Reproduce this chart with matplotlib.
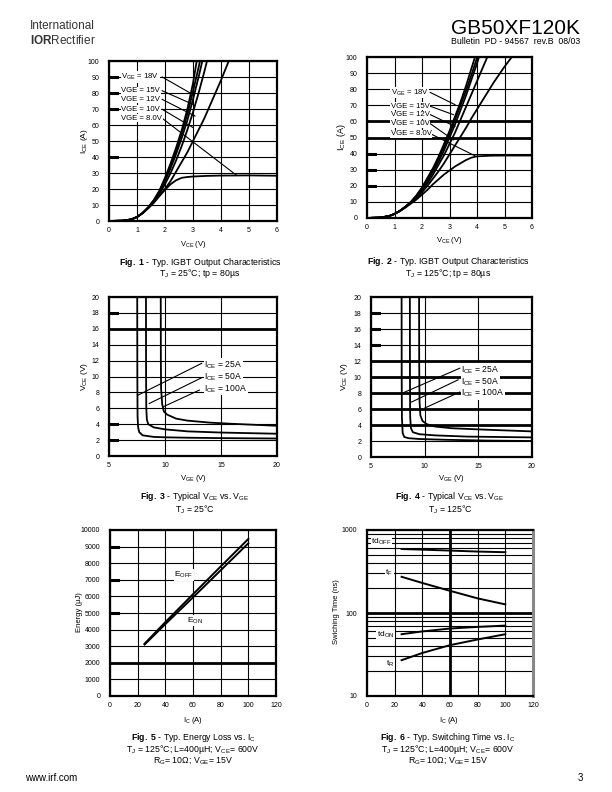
import matplotlib
matplotlib.use("Agg")
import matplotlib.pyplot as plt
from matplotlib.ticker import NullFormatter, LogLocator

plt.rcParams["font.family"] = ["Liberation Sans", "DejaVu Sans"]
plt.rcParams["mathtext.fontset"] = "custom"
plt.rcParams["mathtext.rm"] = "Liberation Sans"
plt.rcParams["mathtext.it"] = "Liberation Sans:italic"
plt.rcParams["mathtext.bf"] = "Liberation Sans:bold"

# ---- Fig. 1 / Fig. 2 : output characteristics (VCE in V, ICE in A)
vce_25 = [0, 0.5, 0.8, 1.0, 1.2, 1.4, 1.6, 1.8, 2.0, 2.2, 2.4, 2.6, 2.8, 3.0, 3.2, 3.4, 3.6, 3.8, 4.0, 4.3]
ice_25_rising = [
    [0, 0.2, 1.0, 2.5, 5, 8.5, 13, 19, 27, 36, 46, 57, 70, 86, 107],
    [0, 0.2, 1.0, 2.5, 5, 8.5, 13, 18.5, 26, 34.5, 44, 55, 67, 81, 96, 112],
    [0, 0.2, 1.0, 2.5, 5, 8.5, 12.5, 18, 25, 33, 42, 52, 63, 76, 90, 105],
    [0, 0.2, 1.0, 2.5, 5, 8.3, 12, 17, 23, 30, 38, 47, 57, 68, 80, 93, 107],
    [0, 0.2, 1.0, 2.5, 4.8, 8, 11.5, 16, 20, 25, 31, 37, 43, 50, 57, 64, 72, 80, 88, 101],
]
vce_25_8v = [0, 0.5, 0.8, 1.0, 1.2, 1.4, 1.6, 1.8, 2.0, 2.2, 2.4, 2.6, 2.8, 3.0, 3.5, 4.0, 5.0, 6.0]
ice_25_8v = [0, 0.2, 1.0, 2.5, 5, 8, 11.5, 15.5, 19.5, 23, 25.5, 27, 27.5, 27.8, 28.2, 28.4, 28.5, 28.3]

vce_125 = [0, 0.5, 0.8, 1.0, 1.2, 1.4, 1.6, 1.8, 2.0, 2.2, 2.4, 2.6, 2.8, 3.0, 3.2,
           3.4, 3.6, 3.8, 4.0, 4.2, 4.4, 4.6, 4.8, 5.0, 5.2, 5.4]
ice_125_rising = [
    [0, 0.3, 1.2, 2.5, 4.5, 7, 10, 14, 19, 25, 31, 38, 46, 54, 63, 72, 82, 93, 104],
    [0, 0.3, 1.2, 2.5, 4.5, 7, 10, 14, 18.5, 24, 30, 37, 44, 52, 61, 70, 79, 89, 99.5, 110],
    [0, 0.3, 1.2, 2.5, 4.5, 7, 10, 13.5, 18, 23, 29, 35, 42, 50, 58, 67, 76, 86, 96, 107],
    [0, 0.3, 1.2, 2.5, 4.5, 7, 9.8, 13, 17, 21.5, 27, 33, 39, 46, 53, 61, 69, 77, 85, 93, 101],
    [0, 0.3, 1.2, 2.5, 4.4, 6.8, 9.5, 12.5, 16, 20, 24.5, 29, 34, 39.5, 45, 50.5, 56, 62,
     67.5, 73, 78.5, 84, 89, 94, 98.5, 103],
]
vce_125_8v = [0, 0.5, 0.8, 1.0, 1.2, 1.4, 1.6, 1.8, 2.0, 2.2, 2.4, 2.6, 2.8, 3.0, 3.2, 3.4,
              3.6, 3.8, 4.0, 4.5, 5.0, 6.0]
ice_125_8v = [0, 0.3, 1.2, 2.5, 4.3, 6.5, 9, 11.5, 14.5, 17.5, 21, 24, 27, 29.5, 32, 34,
              36, 37.5, 38.3, 38.7, 38.8, 38.8]

vge_labels = ["V$_{\\mathrm{GE}}$ = 18V", "VGE = 15V", "VGE = 12V", "VGE = 10V", "VGE = 8.0V"]

# ---- Fig. 3 / Fig. 4 : VCE vs VGE for ICE = 25, 50, 100 A
ice_labels = ["I$_{\\mathrm{CE}}$ = 25A", "I$_{\\mathrm{CE}}$ = 50A", "I$_{\\mathrm{CE}}$ = 100A"]
vge_25c = [
    [7.52, 7.53, 7.55, 7.6, 7.7, 8.0, 9.0, 10, 12, 15, 20],
    [8.3, 8.31, 8.33, 8.38, 8.5, 9.0, 10, 12, 15, 20],
    [9.62, 9.63, 9.65, 9.75, 9.9, 10.2, 11, 12, 14, 16, 20],
]
vce_25c = [
    [20, 10, 5, 3.6, 3.0, 2.6, 2.4, 2.35, 2.3, 2.25, 2.2],
    [20, 10, 6, 4.6, 4.0, 3.6, 3.35, 3.1, 2.95, 2.8],
    [20, 12, 8.5, 6.5, 5.6, 5.2, 4.7, 4.45, 4.2, 4.05, 3.8],
]
vge_125c = [
    [7.85, 7.86, 7.88, 7.95, 8.1, 8.5, 9.5, 12, 16, 20],
    [8.62, 8.63, 8.65, 8.72, 8.9, 9.5, 11, 14, 20],
    [9.48, 9.49, 9.52, 9.6, 9.8, 10.2, 11, 12.5, 15, 20],
]
vce_125c = [
    [20, 10, 5, 3.0, 2.5, 2.35, 2.25, 2.15, 2.05, 2.0],
    [20, 10, 5, 3.6, 3.1, 2.85, 2.7, 2.55, 2.45],
    [20, 12, 7, 5.2, 4.5, 4.1, 3.8, 3.6, 3.45, 3.2],
]

# ---- Fig. 5 : energy loss vs IC (uJ)
ic_energy = [25, 40, 60, 80, 100]
e_off = [3150, 4450, 6130, 7800, 9460]
e_on = [3100, 4330, 5940, 7570, 9200]

# ---- Fig. 6 : switching time vs IC (ns)
ic_switch = [25, 40, 60, 80, 100]
td_off = [590, 580, 565, 550, 540]
t_f = [273, 230, 185, 150, 127]
td_on = [55.5, 60, 65, 68, 70.5]
t_r = [27, 33, 41, 48, 55.5]

W, H = 612, 792
fig = plt.figure(figsize=(W / 100, H / 100), dpi=100)
fig.patch.set_facecolor("white")


def page_axes(x0, y0, x1, y1):
    """Axes placed by page pixel box (top-left origin)."""
    return fig.add_axes([x0 / W, 1 - y1 / H, (x1 - x0) / W, (y1 - y0) / H])


def page_text(x, y, s, **kw):
    kw.setdefault("ha", "center")
    kw.setdefault("va", "center")
    fig.text(x / W, 1 - y / H, s, **kw)


def style(ax, xticks, yticks, heavy_h=(), heavy_v=(), stubs=(), log=False):
    ax.set_xlim(xticks[0], xticks[-1])
    ax.set_xticks(xticks)
    if not log:
        ax.set_ylim(yticks[0], yticks[-1])
        ax.set_yticks(yticks)
    ax.grid(True, which="both", color="black", lw=0.8)
    ax.tick_params(which="both", length=0, labelsize=5)
    ax.tick_params(axis="y", pad=7)
    ax.tick_params(axis="x", pad=4.5)
    for s in ax.spines.values():
        s.set_linewidth(1.6)
    for y in heavy_h:
        ax.axhline(y, color="black", lw=2.0)
    for x in heavy_v:
        ax.axvline(x, color="black", lw=2.0)
    for y in stubs:
        ax.plot([0, 0.05], [y, y], color="black", lw=2.2,
                transform=ax.get_yaxis_transform(), clip_on=False)


def label(ax, x, y, s, size=5.8):
    ax.text(x, y, s, fontsize=size, ha="left", va="center", zorder=5,
            bbox=dict(facecolor="white", edgecolor="none", pad=0.4))


def leader(ax, x0, y0, x1, y1):
    ax.plot([x0, x1], [y0, y1], color="black", lw=0.8, zorder=4)


curve_kw = dict(color="black", lw=1.3, zorder=3)

# ---------------- Fig. 1
ax1 = page_axes(109, 61, 277, 221)
for ys in ice_25_rising:
    ax1.plot(vce_25[:len(ys)], ys, **curve_kw)
ax1.plot(vce_25_8v, ice_25_8v, **curve_kw)
style(ax1, list(range(0, 7)), list(range(0, 101, 10)), stubs=(40, 70, 80, 90))
lab_y1 = [90, 81.4, 76, 69.8, 64.2]
end1 = [(2.95, 79.5), (3.01, 72.8), (3.07, 65.6), (3.01, 58.3), (4.56, 28.5)]
for s, ly, (ex, ey) in zip(vge_labels, lab_y1, end1):
    leader(ax1, 1.9, ly, ex, ey)
    label(ax1, 0.44, ly, s, size=5.6)

# ---------------- Fig. 2
ax2 = page_axes(367, 57, 532, 218)
for ys in ice_125_rising:
    ax2.plot(vce_125[:len(ys)], ys, **curve_kw)
ax2.plot(vce_125_8v, ice_125_8v, **curve_kw)
style(ax2, list(range(0, 7)), list(range(0, 101, 10)), heavy_h=(50, 60), stubs=(20, 30, 40))
lab_y2 = [78, 69.4, 64.2, 58.6, 52.4]
end2 = [(3.2, 70.4), (3.14, 64.2), (3.2, 56.9), (3.14, 48.5), (3.93, 38.6)]
for s, ly, (ex, ey) in zip(vge_labels, lab_y2, end2):
    leader(ax2, 2.3, ly, ex, ey)
    label(ax2, 0.87, ly, s, size=5.6)

# ---------------- Fig. 3
ax3 = page_axes(109, 297, 277, 456)
for xs, ys in zip(vge_25c, vce_25c):
    ax3.plot(xs, ys, **curve_kw)
style(ax3, [5, 10, 15, 20], list(range(0, 21, 2)), heavy_h=(16,), stubs=(2, 4, 18))
lab3 = [(13.5, 11.45), (13.5, 9.98), (13.5, 8.5)]
lead3 = [(7.6, 7.66, 13.28, 11.66), (8.59, 6.6, 13.28, 9.85), (9.84, 6.19, 13.07, 8.29)]
for s, (tx, ty), ln in zip(ice_labels, lab3, lead3):
    leader(ax3, *ln)
    label(ax3, tx, ty, s, size=6.2)

# ---------------- Fig. 4
ax4 = page_axes(371, 297, 532, 457)
for xs, ys in zip(vge_125c, vce_125c):
    ax4.plot(xs, ys, **curve_kw)
style(ax4, [5, 10, 15, 20], list(range(0, 21, 2)), heavy_h=(4, 6, 8, 10, 12), stubs=(14, 16, 18))
lab4 = [(13.4, 10.9), (13.4, 9.44), (13.4, 7.99)]
lead4 = [(7.94, 7.99, 13.27, 11.1), (8.78, 6.87, 13.12, 9.65), (10.02, 6.13, 13.27, 8.12)]
for s, (tx, ty), ln in zip(ice_labels, lab4, lead4):
    leader(ax4, *ln)
    label(ax4, tx, ty, s, size=6.2)

# ---------------- Fig. 5
ax5 = page_axes(110, 530, 276, 696)
ax5.plot(ic_energy, e_off, color="black", lw=1.4, zorder=3)
ax5.plot(ic_energy, e_on, color="black", lw=1.4, zorder=3)
style(ax5, list(range(0, 121, 20)), list(range(0, 10001, 1000)), heavy_h=(2000,),
      stubs=(5000, 7000, 9000))
label(ax5, 46.6, 7300, "E$_{\\mathrm{OFF}}$", size=6)
label(ax5, 55.6, 4550, "E$_{\\mathrm{ON}}$", size=6)

# ---------------- Fig. 6
ax6 = page_axes(367, 530, 533, 696)
for ys in (td_off, t_f, td_on, t_r):
    ax6.plot(ic_switch, ys, color="black", lw=1.4, zorder=3)
ax6.set_yscale("log")
ax6.set_ylim(10, 1000)
ax6.set_yticks([10, 100, 1000], labels=["10", "100", "1000"])
ax6.yaxis.set_minor_locator(LogLocator(base=10, subs=range(2, 10)))
ax6.yaxis.set_minor_formatter(NullFormatter())
style(ax6, list(range(0, 121, 20)), None, heavy_h=(100,), heavy_v=(60,), log=True)
ax6.spines["right"].set_color("#888888")
ax6.spines["right"].set_linewidth(2.2)
label(ax6, 3, 723, "td$_{\\mathrm{OFF}}$", size=6)
label(ax6, 13.3, 300, "t$_{\\mathrm{F}}$", size=6)
label(ax6, 7.2, 54, "td$_{\\mathrm{ON}}$", size=6)
label(ax6, 14, 24.5, "t$_{\\mathrm{R}}$", size=6)

# ---------------- axis titles
ax_fs = 5.5
page_text(193, 245, "V$_{\\mathrm{CE}}$ (V)", fontsize=ax_fs)
page_text(84, 141, "I$_{\\mathrm{CE}}$ (A)", fontsize=ax_fs + 0.5, rotation=90)
page_text(449, 241, "V$_{\\mathrm{CE}}$ (V)", fontsize=ax_fs)
page_text(341, 137, "I$_{\\mathrm{CE}}$ (A)", fontsize=ax_fs + 1, rotation=90)
page_text(193, 479, "V$_{\\mathrm{GE}}$ (V)", fontsize=ax_fs)
page_text(84, 377, "V$_{\\mathrm{CE}}$ (V)", fontsize=ax_fs + 0.5, rotation=90)
page_text(451, 479, "V$_{\\mathrm{GE}}$ (V)", fontsize=ax_fs)
page_text(344, 377, "V$_{\\mathrm{CE}}$ (V)", fontsize=ax_fs + 0.5, rotation=90)
page_text(193, 720, "I$_{\\mathrm{C}}$ (A)", fontsize=ax_fs)
page_text(79, 612, "Energy (µJ)", fontsize=ax_fs, rotation=90)
page_text(449, 720, "I$_{\\mathrm{C}}$ (A)", fontsize=ax_fs)
page_text(337, 612, "Swiching Time (ns)", fontsize=ax_fs, rotation=90)

# ---------------- captions
cap_fs = 6.3
page_text(200, 262, "$\\mathbf{Fig.\\ 1}$ - Typ. IGBT Output Characteristics", fontsize=cap_fs)
page_text(200, 274, "T$_{\\mathrm{J}}$ = 25°C; tp = 80µs", fontsize=cap_fs)
page_text(448, 261, "$\\mathbf{Fig.\\ 2}$ - Typ. IGBT Output Characteristics", fontsize=cap_fs)
page_text(448, 273, "T$_{\\mathrm{J}}$ = 125°C; tp = 80µs", fontsize=cap_fs)
page_text(195, 497, "$\\mathbf{Fig.\\ 3}$ - Typical V$_{\\mathrm{CE}}$ vs. V$_{\\mathrm{GE}}$", fontsize=cap_fs)
page_text(195, 510, "T$_{\\mathrm{J}}$ = 25°C", fontsize=cap_fs)
page_text(450, 497, "$\\mathbf{Fig.\\ 4}$ - Typical V$_{\\mathrm{CE}}$ vs. V$_{\\mathrm{GE}}$", fontsize=cap_fs)
page_text(450, 510, "T$_{\\mathrm{J}}$ = 125°C", fontsize=cap_fs)
page_text(193, 737, "$\\mathbf{Fig.\\ 5}$ - Typ. Energy Loss vs. I$_{\\mathrm{C}}$", fontsize=cap_fs)
page_text(193, 749, "T$_{\\mathrm{J}}$ = 125°C; L=400µH; V$_{\\mathrm{CE}}$= 600V", fontsize=cap_fs)
page_text(193, 761, "R$_{\\mathrm{G}}$= 10Ω; V$_{\\mathrm{GE}}$= 15V", fontsize=cap_fs)
page_text(448, 737, "$\\mathbf{Fig.\\ 6}$ - Typ. Switching Time vs. I$_{\\mathrm{C}}$", fontsize=cap_fs)
page_text(448, 749, "T$_{\\mathrm{J}}$ = 125°C; L=400µH; V$_{\\mathrm{CE}}$= 600V", fontsize=cap_fs)
page_text(448, 761, "R$_{\\mathrm{G}}$= 10Ω; V$_{\\mathrm{GE}}$= 15V", fontsize=cap_fs)

# ---------------- header / footer
page_text(30, 26, "International", fontsize=8.5, ha="left", color="#333333")
page_text(30, 40, "$\\mathbf{IOR}$Rectifier", fontsize=8.5, ha="left", color="#333333")
page_text(580, 28, "GB50XF120K", fontsize=15, ha="right")
page_text(580, 42, "Bulletin  PD - 94567  rev.B  08/03", fontsize=6.3, ha="right")
page_text(25, 778, "www.irf.com", fontsize=7, ha="left")
page_text(583, 778, "3", fontsize=7, ha="right")

fig.savefig("out.png", dpi=100, facecolor="white")
